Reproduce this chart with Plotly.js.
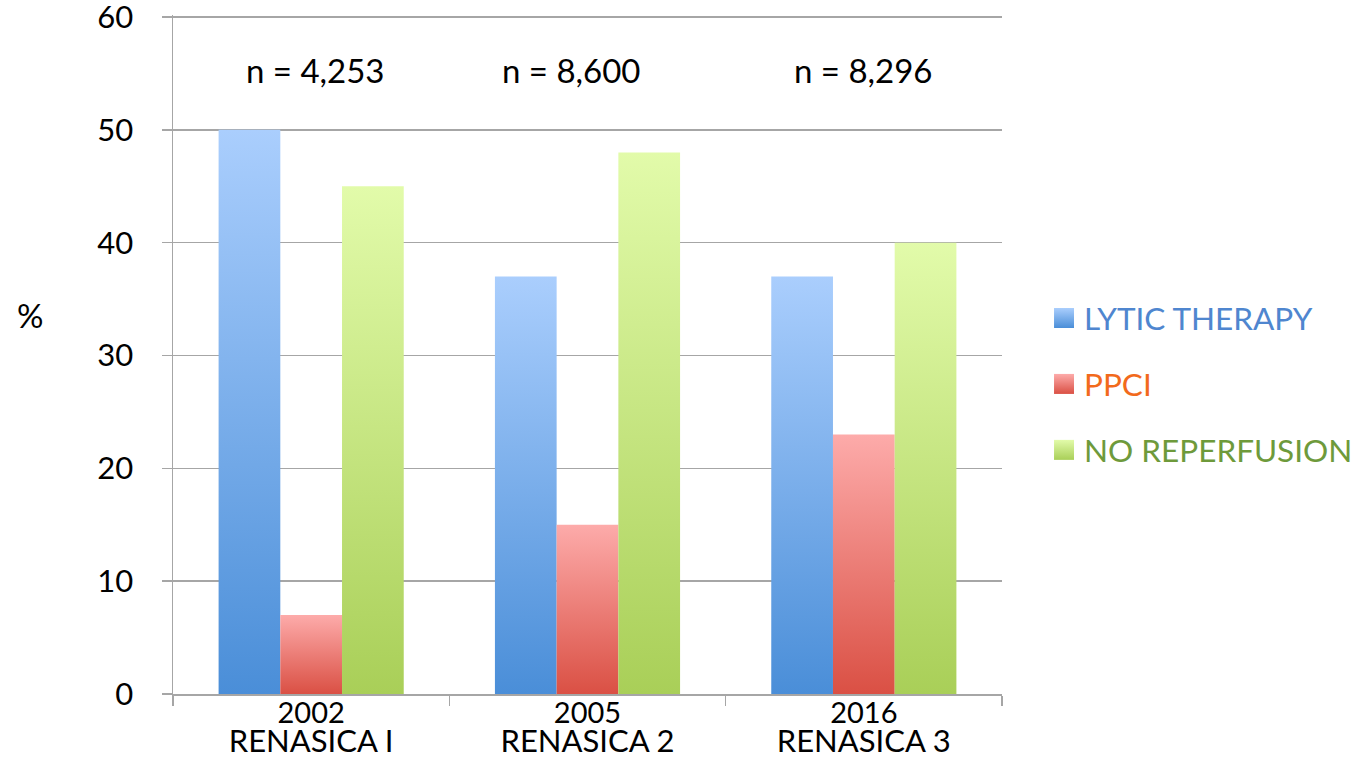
<!DOCTYPE html>
<html>
<head>
<meta charset="utf-8">
<script src="https://cdn.plot.ly/plotly-3.0.1.min.js"></script>
<style>
  html, body { margin: 0; padding: 0; background: #fff; }
  #chart { width: 1358px; height: 758px; }
</style>
</head>
<body>
<div id="chart"></div>
<script>
// Reperfusion strategy by registry edition (% of patients)
const studies = ['RENASICA I', 'RENASICA 2', 'RENASICA 3'];
const years = ['2002', '2005', '2016'];
const sampleSizes = ['n = 4,253', 'n = 8,600', 'n = 8,296'];

const seriesNames = ['LYTIC THERAPY', 'PPCI', 'NO REPERFUSION'];
const lyticTherapy = [50, 37, 37];
const ppci = [7, 15, 23];
const noReperfusion = [45, 48, 40];

const yTicks = [0, 10, 20, 30, 40, 50, 60];

// top / bottom colours of each series' vertical gradient, and legend text colour
const palette = [
  { top: '#aacefd', bottom: '#4a8ed8', text: '#4f86cf' },
  { top: '#fdabaa', bottom: '#da5044', text: '#f26a1c' },
  { top: '#e2fbaa', bottom: '#a9cf58', text: '#6e9a3b' }
];

const seriesValues = [lyticTherapy, ppci, noReperfusion];
const font = 'Lato, "Open Sans", sans-serif';

const traces = seriesValues.map((vals, i) => ({
  type: 'bar',
  x: studies,
  y: vals,
  name: '<span style="color:' + palette[i].text + '">' + seriesNames[i] + '</span>',
  legendgroup: 'g' + i,
  marker: { color: palette[i].bottom, line: { width: 0 } },
  hoverinfo: 'y'
}));

const plotL = 173, plotW = 1358 - 173 - 356, plotT = 15, plotH = 758 - 15 - 64;

const annotations = sampleSizes.map((t, i) => ({
  x: studies[i], y: 55.3, xref: 'x', yref: 'y',
  text: t, showarrow: false,
  xshift: [4, -16, 0][i],
  font: { family: font, size: 33, color: '#000' }
}));
// "%" axis label, positioned in page pixels converted to paper units
annotations.push({
  x: (30 - plotL) / plotW, y: (plotT + plotH - 315) / plotH,
  xref: 'paper', yref: 'paper',
  xanchor: 'center', yanchor: 'middle',
  text: '%', showarrow: false,
  font: { family: font, size: 33, color: '#000' }
});

const layout = {
  width: 1358, height: 758,
  margin: { l: plotL, r: 356, t: plotT, b: 64 },
  paper_bgcolor: '#fff', plot_bgcolor: '#fff',
  barmode: 'group', bargap: 0.33, bargroupgap: 0,
  showlegend: true,
  legend: {
    xref: 'container', yref: 'container',
    x: 0.7688, xanchor: 'left', y: 0.4934, yanchor: 'middle',
    traceorder: 'grouped', tracegroupgap: 22,
    font: { family: font, size: 31.5 },
    itemwidth: 30
  },
  xaxis: {
    type: 'category',
    tickson: 'boundaries',
    ticks: 'outside', ticklen: 10, tickcolor: '#a6a6a6', tickwidth: 1.5,
    showline: true, linecolor: '#a6a6a6', linewidth: 1.5,
    showgrid: false,
    tickvals: studies,
    ticktext: studies.map((s, i) => '<span style="font-size:29px">' + years[i] + '</span><br><span style="font-size:31px">' + s + '</span>'),
    tickfont: { family: font, size: 22, color: '#000' },
    ticklabelstandoff: 1,
    automargin: false
  },
  yaxis: {
    range: [0, 60.18],
    tickvals: yTicks,
    ticks: 'outside', ticklen: 10, tickcolor: '#a6a6a6', tickwidth: 1.5,
    showline: true, linecolor: '#a6a6a6', linewidth: 1.5,
    showgrid: true, gridcolor: '#a6a6a6', gridwidth: 1.5,
    zeroline: false,
    tickfont: { family: font, size: 31, color: '#000' },
    ticklabelstandoff: 22,
    ticklabeloverflow: 'allow',
    automargin: false
  },
  annotations: annotations
};

Plotly.newPlot('chart', traces, layout, { staticPlot: true }).then(gd => {
  // vertical gradients for bars and legend swatches
  const svg = gd.querySelector('.main-svg');
  const ns = 'http://www.w3.org/2000/svg';
  let defs = svg.querySelector('defs');
  if (!defs) { defs = document.createElementNS(ns, 'defs'); svg.insertBefore(defs, svg.firstChild); }
  palette.forEach((p, i) => {
    const g = document.createElementNS(ns, 'linearGradient');
    g.setAttribute('id', 'barGrad' + i);
    g.setAttribute('x1', '0'); g.setAttribute('y1', '0');
    g.setAttribute('x2', '0'); g.setAttribute('y2', '1');
    [[0, p.top], [1, p.bottom]].forEach(([off, col]) => {
      const s = document.createElementNS(ns, 'stop');
      s.setAttribute('offset', off);
      s.setAttribute('stop-color', col);
      g.appendChild(s);
    });
    defs.appendChild(g);
  });
  gd.querySelectorAll('.barlayer .trace').forEach((tr, i) => {
    tr.querySelectorAll('path').forEach(p => { p.style.fill = 'url(#barGrad' + i + ')'; });
  });
  gd.querySelectorAll('.legend .traces').forEach((tr, i) => {
    tr.querySelectorAll('.legendpoints path').forEach(p => {
      p.setAttribute('d', 'M10,10H-10V-10H10Z');
      p.style.fill = 'url(#barGrad' + i + ')';
    });
  });
});
</script>
</body>
</html>
